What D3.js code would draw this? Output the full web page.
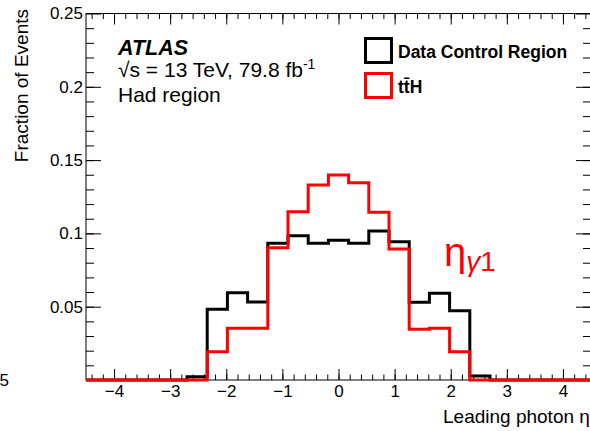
<!DOCTYPE html>
<html>
<head>
<meta charset="utf-8">
<script src="https://cdn.jsdelivr.net/npm/d3@7"></script>
<style>
body { margin: 0; background: #fff; }
svg { display: block; font-family: "Liberation Sans", Arial, sans-serif; }
</style>
</head>
<body>
<script>
var width = 590, height = 431;

// 25 bins of width 0.36 from -4.5 to 4.5
var binEdges = d3.range(26).map(function(i){ return +(-4.5 + i*0.36).toFixed(2); });

var dataCR = [0, 0, 0, 0, 0, 0.0023, 0.0482, 0.0596, 0.0532, 0.0932, 0.0984, 0.0932, 0.0953,
              0.0932, 0.1016, 0.0943, 0.0530, 0.0591, 0.0473, 0.0027, 0, 0, 0, 0, 0];
var ttH = [0, 0, 0, 0, 0, 0, 0.0193, 0.0353, 0.0353, 0.0902, 0.1148, 0.1330, 0.1398,
           0.1346, 0.1144, 0.0894, 0.0346, 0.0353, 0.0193, 0, 0, 0, 0, 0, 0];

var xTicks = [-4, -3, -2, -1, 0, 1, 2, 3, 4];
var yTicks = [0.05, 0.1, 0.15, 0.2, 0.25];
var yTickLabels = ["0.05", "0.1", "0.15", "0.2", "0.25"];
var legendNames = ["Data Control Region", "tt\u0304H"];
var legendColors = ["#000", "#ff0000"];

// frame edges (note: "top" would clash with window.top)
var fLeft = 86, fRight = 591, fTop = 13.5, fBottom = 380;

var x = d3.scaleLinear().domain([-4.5, 4.5]).range([fLeft, fRight]);
var y = d3.scaleLinear().domain([0, 0.25]).range([fBottom, fTop]);

var svg = d3.select("body").append("svg")
    .attr("width", width)
    .attr("height", height);

// frame
svg.append("rect")
    .attr("x", fLeft).attr("y", fTop)
    .attr("width", fRight - fLeft).attr("height", fBottom - fTop)
    .attr("fill", "none").attr("stroke", "#000").attr("stroke-width", 1);

function styleAxis(g){
    g.select(".domain").remove();
    g.selectAll("line").attr("stroke", "#000").attr("stroke-width", 1);
    g.selectAll("text").attr("font-size", 17).attr("fill", "#000")
        .attr("font-family", "Liberation Sans, Arial, sans-serif");
}

var xMinor = d3.range(-4.4, 4.5, 0.2).map(function(v){ return +v.toFixed(1); });
var yMinor = d3.range(0.01, 0.25, 0.01).map(function(v){ return +v.toFixed(2); });

// bottom axis
svg.append("g").attr("transform", "translate(0," + fBottom + ")")
    .call(d3.axisBottom(x).tickValues(xMinor).tickSize(-5.5).tickFormat(""))
    .call(styleAxis);
svg.append("g").attr("transform", "translate(0," + fBottom + ")")
    .call(d3.axisBottom(x).tickValues(xTicks).tickSize(-11).tickPadding(5)
        .tickFormat(function(d){ return String(d).replace("-", "\u2212"); }))
    .call(styleAxis);
// top axis (ticks only)
svg.append("g").attr("transform", "translate(0," + fTop + ")")
    .call(d3.axisTop(x).tickValues(xMinor).tickSize(-5.5).tickFormat(""))
    .call(styleAxis);
svg.append("g").attr("transform", "translate(0," + fTop + ")")
    .call(d3.axisTop(x).tickValues(xTicks).tickSize(-11).tickFormat(""))
    .call(styleAxis);

// left axis
svg.append("g").attr("transform", "translate(" + fLeft + ",0)")
    .call(d3.axisLeft(y).tickValues(yMinor).tickSize(-8).tickFormat(""))
    .call(styleAxis);
svg.append("g").attr("transform", "translate(" + fLeft + ",0)")
    .call(d3.axisLeft(y).tickValues(yTicks).tickSize(-15).tickPadding(3)
        .tickFormat(function(d, i){ return yTickLabels[i]; }))
    .call(styleAxis);
// right axis (ticks only)
svg.append("g").attr("transform", "translate(" + fRight + ",0)")
    .call(d3.axisRight(y).tickValues(yMinor).tickSize(-8).tickFormat(""))
    .call(styleAxis);
svg.append("g").attr("transform", "translate(" + fRight + ",0)")
    .call(d3.axisRight(y).tickValues(yTicks).tickSize(-15).tickFormat(""))
    .call(styleAxis);

// stray label at bottom left
svg.append("text").attr("x", 9).attr("y", 386).attr("text-anchor", "end")
    .attr("font-size", 17).text("5");

// step histograms
var step = d3.line()
    .x(function(d){ return x(d[0]); })
    .y(function(d){ return y(d[1]); })
    .curve(d3.curveStepAfter);

function histPoints(vals){
    var pts = vals.map(function(v, i){ return [binEdges[i], v]; });
    pts.push([binEdges[vals.length], vals[vals.length - 1]]);
    return pts;
}

[dataCR, ttH].forEach(function(vals, k){
    svg.append("path")
        .attr("d", step(histPoints(vals)))
        .attr("fill", "none")
        .attr("stroke", legendColors[k])
        .attr("stroke-width", 3)
        .attr("stroke-linejoin", "miter");
});

// axis titles
svg.append("text")
    .attr("transform", "translate(28,9) rotate(-90)")
    .attr("text-anchor", "end")
    .attr("font-size", 19)
    .text("Fraction of Events");

svg.append("text")
    .attr("x", 443).attr("y", 423)
    .attr("font-size", 19)
    .text("Leading photon \u03b7");

// ATLAS label
svg.append("text").attr("x", 118).attr("y", 55)
    .attr("font-size", 21.5).attr("font-weight", "bold").attr("font-style", "italic")
    .text("ATLAS");
var lumi = svg.append("text").attr("x", 118).attr("y", 77).attr("font-size", 21);
lumi.append("tspan").text("\u221As = 13 TeV, 79.8 fb");
lumi.append("tspan").attr("font-size", 14).attr("dy", -8).text("-1");
svg.append("text").attr("x", 118).attr("y", 101.5).attr("font-size", 21)
    .text("Had region");

// legend
legendNames.forEach(function(name, i){
    var ly = 38.5 + i * 35;
    svg.append("rect")
        .attr("x", 365.5).attr("y", ly)
        .attr("width", 26).attr("height", 24)
        .attr("fill", "none").attr("stroke", legendColors[i]).attr("stroke-width", 3);
    svg.append("text")
        .attr("x", 398).attr("y", ly + 19.5)
        .attr("font-size", 17.5).attr("font-weight", "bold")
        .text(name);
});

// big red eta label
var eta = svg.append("text").attr("x", 444).attr("y", 266)
    .attr("fill", "#ff0000").attr("font-size", 40);
eta.append("tspan").text("\u03b7");
eta.append("tspan").attr("font-size", 28).attr("dy", 5).attr("font-style", "italic").text("\u03b3");
eta.append("tspan").attr("font-size", 28).text("1");
</script>
</body>
</html>
